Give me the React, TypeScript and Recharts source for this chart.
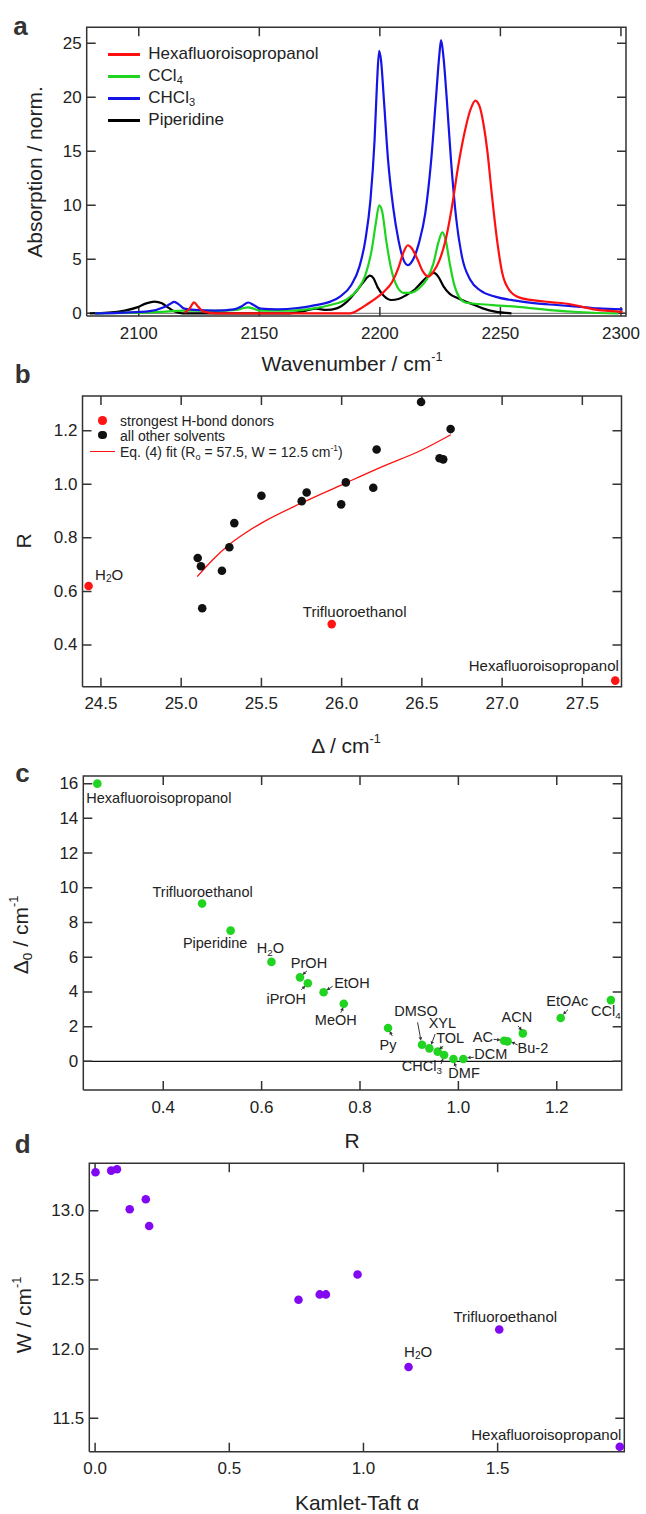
import React from 'react';
import { ComposedChart, Line, Scatter, XAxis, YAxis, ReferenceLine } from 'recharts';

// ---------------------------------------------------------------------------
// Style
// ---------------------------------------------------------------------------

const FONT = '"Liberation Sans", Arial, Helvetica, sans-serif';
const AX = '#333';
const TXT = '#222';
const RED = '#ff1010';
const GREEN = '#1ed41e';
const BLUE = '#1414e6';
const PURPLE = '#8208f2';
const DOTGREEN = '#22d422';

// ---------------------------------------------------------------------------
// Panel a: normalised absorption spectra
// ---------------------------------------------------------------------------

const hfipWn = [2119, 2121.2, 2122.9, 2124.6, 2127, 2131.8, 2150, 2170, 2187.7, 2191.5, 2194.9, 2198.3, 2201.7, 2205.1, 2207.7, 2209.9, 2211.6, 2213.3, 2215.4, 2217.9, 2220.1, 2222.2, 2224.7, 2227.3, 2229.9, 2232.4, 2235.0, 2237.5, 2239.6, 2241.3, 2243.0, 2244.7, 2246.4, 2248.6, 2250.8, 2253.7, 2258.0, 2264.8, 2271.6, 2278.5, 2283.6, 2288.7, 2295.5, 2300.7];
const hfipAbs = [0.06, 0.46, 1.02, 0.62, 0.15, 0, 0, 0, 0, 0.37, 0.86, 1.39, 2.0, 2.9, 4.2, 5.7, 6.3, 6.0, 5.1, 3.85, 3.4, 3.85, 4.9, 6.8, 9.85, 13.5, 16.6, 18.8, 19.7, 19.2, 17.5, 14.8, 11.1, 6.8, 3.7, 2.15, 1.45, 1.17, 1.02, 0.86, 0.62, 0.37, 0.22, 0.12];

const cclWn = [2081.9, 2099.3, 2111.3, 2118.1, 2131.8, 2140.3, 2143.7, 2145.4, 2147.5, 2150.5, 2162.5, 2172.7, 2179.5, 2186.4, 2190.6, 2194.0, 2196.6, 2198.3, 2199.7, 2200.9, 2202.6, 2204.8, 2207.2, 2209.9, 2212.8, 2216.2, 2219.6, 2222.2, 2224.2, 2225.9, 2227.3, 2229.0, 2230.7, 2232.8, 2235.8, 2240.9, 2247.8, 2256.3, 2264.8, 2273.4, 2281.9, 2290.4, 2299.0];
const cclAbs = [0, 0.06, 0.15, 0.25, 0.22, 0.31, 0.49, 0.55, 0.43, 0.25, 0.25, 0.46, 0.77, 1.32, 2.15, 3.54, 5.85, 8.3, 10.0, 9.5, 6.8, 4.0, 2.46, 1.9, 1.9, 2.3, 3.2, 4.6, 6.5, 7.5, 6.8, 4.6, 2.77, 1.54, 0.98, 0.86, 0.74, 0.62, 0.43, 0.25, 0.12, 0.03, 0];

const chclWn = [2081.9, 2094.2, 2104.5, 2110.4, 2113.0, 2114.7, 2116.7, 2118.9, 2123.2, 2131.8, 2139.4, 2142.9, 2145.4, 2147.6, 2150.5, 2157.4, 2165.9, 2172.7, 2179.5, 2183.8, 2188.1, 2191.5, 2194.0, 2196.1, 2197.8, 2198.8, 2199.7, 2200.5, 2201.7, 2203.4, 2205.5, 2207.7, 2209.9, 2211.6, 2213.6, 2216.2, 2218.8, 2221.3, 2223.4, 2224.7, 2225.4, 2226.4, 2227.8, 2229.5, 2231.6, 2234.1, 2237.5, 2241.8, 2247.8, 2256.3, 2264.8, 2273.4, 2281.9, 2290.4, 2300.7];
const chclAbs = [0, 0.06, 0.2, 0.55, 0.86, 1.05, 0.8, 0.43, 0.31, 0.25, 0.37, 0.68, 1.0, 0.77, 0.43, 0.37, 0.49, 0.74, 1.08, 1.6, 2.6, 4.3, 6.8, 10.5, 16.0, 21.2, 24.3, 23.4, 19.7, 14.2, 9.85, 6.8, 4.9, 4.46, 4.9, 6.5, 9.2, 14.2, 20.3, 24.0, 25.3, 23.7, 19.7, 14.2, 8.9, 5.2, 3.1, 2.1, 1.54, 1.17, 0.92, 0.77, 0.62, 0.46, 0.37];

const pipWn = [2079.7, 2087.4, 2094.2, 2099.3, 2103.1, 2106.5, 2109.6, 2112.1, 2114.7, 2118.1, 2140, 2162.5, 2169.3, 2173.6, 2177.8, 2182.1, 2186.4, 2190.1, 2193.2, 2195.9, 2197.4, 2199.1, 2201.7, 2204.8, 2207.7, 2211.1, 2214.5, 2217.9, 2220.8, 2222.5, 2224.2, 2226.4, 2229.0, 2232.4, 2237.5, 2242.7, 2247.8, 2254.6];
const pipAbs = [0, 0.06, 0.25, 0.55, 0.92, 1.08, 0.92, 0.55, 0.18, 0, 0, 0, 0.25, 0.43, 0.31, 0.46, 1.08, 2.0, 2.9, 3.48, 3.23, 2.4, 1.6, 1.23, 1.32, 1.7, 2.2, 3.0, 3.6, 3.75, 3.4, 2.5, 1.8, 1.39, 0.92, 0.46, 0.15, 0];

const aXDomain = [2078.4, 2302.1];
const aYDomain = [-0.25, 26.48];
const aXTicks = [2100, 2150, 2200, 2250, 2300];
const aYTicks = [0, 5, 10, 15, 20, 25];

// ---------------------------------------------------------------------------
// Panel b: R vs splitting
// ---------------------------------------------------------------------------

const bDonorNames = ['H2O', 'Trifluoroethanol', 'Hexafluoroisopropanol'];
const bDonorDelta = [24.423, 25.938, 27.705];
const bDonorR = [0.62, 0.478, 0.267];

const bOtherDelta = [26.495, 26.679, 26.218, 26.61, 26.633, 26.026, 25.782, 25.751, 26.197, 25.997, 25.5, 25.331, 25.3, 25.254, 25.103, 25.123, 25.131];
const bOtherR = [1.307, 1.206, 1.13, 1.097, 1.093, 1.007, 0.969, 0.937, 0.987, 0.925, 0.957, 0.855, 0.765, 0.677, 0.725, 0.694, 0.537];

const bFitDelta = [25.1, 25.2, 25.3, 25.4, 25.5, 25.75, 26.0, 26.25, 26.5, 26.68];
const bFitR = [0.655, 0.72, 0.775, 0.818, 0.855, 0.93, 0.998, 1.065, 1.128, 1.185];

const bXDomain = [24.385, 27.744];
const bYDomain = [0.2443, 1.3295];
const bXTicks = [24.5, 25, 25.5, 26, 26.5, 27, 27.5];
const bYTicks = [0.4, 0.6, 0.8, 1.0, 1.2];

// ---------------------------------------------------------------------------
// Panel c: Δ0 vs R
// ---------------------------------------------------------------------------

const cNames = ['Hexafluoroisopropanol', 'Trifluoroethanol', 'Piperidine', 'H2O', 'PrOH', 'iPrOH', 'EtOH', 'MeOH', 'Py', 'DMSO', 'XYL', 'TOL', 'CHCl3', 'DMF', 'DCM', 'AC', 'Bu-2', 'ACN', 'EtOAc', 'CCl4'];
const cR = [0.266, 0.479, 0.537, 0.62, 0.678, 0.694, 0.726, 0.767, 0.857, 0.926, 0.941, 0.958, 0.971, 0.99, 1.01, 1.093, 1.1, 1.131, 1.208, 1.31];
const cDelta0 = [16.0, 9.09, 7.53, 5.73, 4.84, 4.5, 3.98, 3.32, 1.92, 0.96, 0.75, 0.56, 0.37, 0.14, 0.14, 1.19, 1.15, 1.61, 2.5, 3.53];

const cXDomain = [0.2375, 1.332];
const cYDomain = [-1.65, 16.44];
const cXTicks = [0.4, 0.6, 0.8, 1.0, 1.2];
const cYTicks = [0, 2, 4, 6, 8, 10, 12, 14, 16];

// ---------------------------------------------------------------------------
// Panel d: W vs Kamlet-Taft alpha
// ---------------------------------------------------------------------------

const dNames = ['', '', '', '', '', '', '', '', '', '', 'H2O', 'Trifluoroethanol', 'Hexafluoroisopropanol'];
const dAlpha = [0.0015, 0.06, 0.0815, 0.129, 0.189, 0.2015, 0.758, 0.837, 0.86, 0.978, 1.168, 1.506, 1.955];
const dW = [13.277, 13.289, 13.299, 13.01, 13.082, 12.889, 12.356, 12.395, 12.395, 12.539, 11.871, 12.142, 11.295];

const dXDomain = [-0.0216, 1.972];
const dYDomain = [11.259, 13.342];
const dXTicks = [0, 0.5, 1.0, 1.5];
const dYTicks = [11.5, 12.0, 12.5, 13.0];

// ---------------------------------------------------------------------------
// Label placement (pixel offsets from each point)
// ---------------------------------------------------------------------------

type Anchor = 'start' | 'middle' | 'end';
interface Note { dx: number; dy: number; anchor: Anchor; arrow?: [number, number, number, number] }

const bNotes: Record<string, Note> = {
  'H2O': { dx: 6.5, dy: -12, anchor: 'start' },
  'Trifluoroethanol': { dx: 23, dy: -13.4, anchor: 'middle' },
  'Hexafluoroisopropanol': { dx: 3.6, dy: -15.6, anchor: 'end' },
};

const cNotes: Record<string, Note> = {
  'Hexafluoroisopropanol': { dx: -11, dy: 14.3, anchor: 'start' },
  'Trifluoroethanol': { dx: 0.5, dy: -12, anchor: 'middle' },
  'Piperidine': { dx: -15.5, dy: 12, anchor: 'middle' },
  'H2O': { dx: -1, dy: -13.6, anchor: 'middle' },
  'PrOH': { dx: 9, dy: -14, anchor: 'middle', arrow: [7, -6.5, 2.5, -2.5] },
  'iPrOH': { dx: -21.7, dy: 16, anchor: 'middle', arrow: [-6.5, 6.5, -2.5, 2.5] },
  'EtOH': { dx: 28.3, dy: -9.6, anchor: 'middle', arrow: [9, -6, 3, -2] },
  'MeOH': { dx: -8, dy: 16, anchor: 'middle', arrow: [-3, 9, -0.5, 3.5] },
  'Py': { dx: 0, dy: 16.6, anchor: 'middle', arrow: [4.3, 8, 1.5, 3] },
  'DMSO': { dx: -6, dy: -33.5, anchor: 'middle', arrow: [-4.4, -22.4, -1, -4] },
  'XYL': { dx: 13, dy: -25, anchor: 'middle', arrow: [5.8, -14.3, 1.8, -3.5] },
  'TOL': { dx: 12.4, dy: -13.6, anchor: 'middle', arrow: [5.5, -5.5, 1.5, -2.3] },
  'CHCl3': { dx: -22.3, dy: 11.4, anchor: 'middle', arrow: [-3, 9, -1, 3.5] },
  'DMF': { dx: 10.6, dy: 14.4, anchor: 'middle', arrow: [2.7, 8.5, 0.7, 3.5] },
  'DCM': { dx: 11, dy: -4.5, anchor: 'start', arrow: [10.5, -1.6, 3.8, -1.2] },
  'AC': { dx: -11.2, dy: -3.4, anchor: 'end', arrow: [-10.6, -1.4, -3.5, -0.6] },
  'Bu-2': { dx: 10, dy: 7, anchor: 'start', arrow: [10, 3.6, 3.8, 0.5] },
  'ACN': { dx: -6, dy: -16, anchor: 'middle', arrow: [-4.8, -7.5, -1, -3] },
  'EtOAc': { dx: 6.5, dy: -16.7, anchor: 'middle', arrow: [7.3, -8.4, 2.3, -3.4] },
  'CCl4': { dx: -5, dy: 11, anchor: 'middle' },
};

const dNotes: Record<string, Note> = {
  'H2O': { dx: 9.6, dy: -16, anchor: 'middle' },
  'Trifluoroethanol': { dx: 6, dy: -13.4, anchor: 'middle' },
  'Hexafluoroisopropanol': { dx: 1.6, dy: -12.6, anchor: 'end' },
};

// ---------------------------------------------------------------------------
// Helpers
// ---------------------------------------------------------------------------

const pts = (xs: number[], ys: number[], names?: string[]) =>
  xs.map((x, i) => ({ x, y: ys[i], name: names ? names[i] : '' }));

const TICK_LEN = 9;
const TICK_FS = 17;

// outline of the plot area with inward tick excursions on all four edges,
// walked as one polyline; w/h = plot size in px (tick length -> data units)
function framePts(xd: number[], yd: number[], xt: number[], yt: number[], w: number, h: number) {
  const lx = (TICK_LEN * (xd[1] - xd[0])) / w;
  const ly = (TICK_LEN * (yd[1] - yd[0])) / h;
  const out: { x: number; y: number }[] = [{ x: xd[0], y: yd[0] }];
  xt.forEach((t) => out.push({ x: t, y: yd[0] }, { x: t, y: yd[0] + ly }, { x: t, y: yd[0] }));
  out.push({ x: xd[1], y: yd[0] });
  yt.forEach((t) => out.push({ x: xd[1], y: t }, { x: xd[1] - lx, y: t }, { x: xd[1], y: t }));
  out.push({ x: xd[1], y: yd[1] });
  [...xt].reverse().forEach((t) => out.push({ x: t, y: yd[1] }, { x: t, y: yd[1] - ly }, { x: t, y: yd[1] }));
  out.push({ x: xd[0], y: yd[1] });
  [...yt].reverse().forEach((t) => out.push({ x: xd[0], y: t }, { x: xd[0] + lx, y: t }, { x: xd[0], y: t }));
  out.push({ x: xd[0], y: yd[0] });
  return out;
}

const f0 = (v: number) => v.toFixed(0);
const f1 = (v: number) => v.toFixed(1);

const labelBottom = (fmt: (v: number) => string) => (p: any) => (
  <text x={p.x} y={p.y + 17} textAnchor="middle" dominantBaseline="central"
    fontSize={TICK_FS} fontFamily={FONT} fill={TXT}>{fmt(p.payload.value)}</text>
);
const labelLeft = (fmt: (v: number) => string) => (p: any) => (
  <text x={p.x - 5} y={p.y} textAnchor="end" dominantBaseline="central"
    fontSize={TICK_FS} fontFamily={FONT} fill={TXT}>{fmt(p.payload.value)}</text>
);

const axisCommon = { type: 'number' as const, interval: 0 as const, tickLine: false, axisLine: false, tickSize: 0, tickMargin: 0 };

// digits right after a letter become subscripts (H2O, CHCl3, CCl4)
function rich(s: string, fs: number) {
  const out: React.ReactNode[] = [];
  let buf = '';
  let down = false;
  const flush = (k: number) => {
    if (!buf) return;
    out.push(<tspan key={'t' + k} dy={down ? -fs * 0.25 : 0}>{buf}</tspan>);
    down = false;
    buf = '';
  };
  for (let i = 0; i < s.length; i++) {
    const ch = s[i];
    if (/\d/.test(ch) && i > 0 && /[A-Za-z]/.test(s[i - 1])) {
      flush(i);
      out.push(<tspan key={'s' + i} dy={fs * 0.25} fontSize={fs * 0.68}>{ch}</tspan>);
      down = true;
    } else buf += ch;
  }
  flush(s.length);
  return out;
}

function arrow(a: [number, number, number, number], cx: number, cy: number) {
  const [x1, y1, x2, y2] = [cx + a[0], cy + a[1], cx + a[2], cy + a[3]];
  const ang = Math.atan2(y2 - y1, x2 - x1);
  const L = 3.5, W = 1.8;
  const bx = x2 - L * Math.cos(ang), by = y2 - L * Math.sin(ang);
  const px = -Math.sin(ang) * W, py = Math.cos(ang) * W;
  return (
    <g>
      <line x1={x1} y1={y1} x2={bx} y2={by} stroke="#333" strokeWidth={1} />
      <polygon points={`${x2},${y2} ${bx + px},${by + py} ${bx - px},${by - py}`} fill="#333" />
    </g>
  );
}

const dotShape = (color: string, r: number, notes: Record<string, Note> = {}, fs = 15) => (p: any) => {
  const { cx, cy, payload } = p;
  const n = payload && payload.name ? notes[payload.name] : undefined;
  return (
    <g>
      <circle cx={cx} cy={cy} r={r} fill={color} />
      {n && n.arrow && arrow(n.arrow, cx, cy)}
      {n && (
        <text x={cx + n.dx} y={cy + n.dy} textAnchor={n.anchor} dominantBaseline="central"
          fontSize={fs} fontFamily={FONT} fill={TXT}>{rich(payload.name, fs)}</text>
      )}
    </g>
  );
};

function Txt({ x, y, size = 21, rot = 0, bold = false, children }: any) {
  return (
    <div style={{
      position: 'absolute', left: x, top: y, transform: `translate(-50%, -50%) rotate(${rot}deg)`,
      fontFamily: FONT, fontSize: size, fontWeight: bold ? 'bold' : 'normal', color: bold ? '#333' : TXT,
      whiteSpace: 'nowrap', lineHeight: 1,
    }}>{children}</div>
  );
}

const Sup = ({ children }: any) => <sup style={{ fontSize: '0.6em', verticalAlign: '0.75em', lineHeight: 0 }}>{children}</sup>;
const Sub = ({ children }: any) => <sub style={{ fontSize: '0.65em', verticalAlign: '-0.3em', lineHeight: 0 }}>{children}</sub>;

const frameLine = { dataKey: 'y', type: 'linear' as const, stroke: AX, strokeWidth: 1.5, dot: false, isAnimationActive: false };

// ---------------------------------------------------------------------------
// App
// ---------------------------------------------------------------------------

export default function App() {
  const legendA = [
    { label: <>Hexafluoroisopropanol</>, color: RED },
    { label: <>CCl<Sub>4</Sub></>, color: GREEN },
    { label: <>CHCl<Sub>3</Sub></>, color: BLUE },
    { label: <>Piperidine</>, color: '#000' },
  ];

  return (
    <div style={{ position: 'absolute', left: 0, top: 0, width: 646, height: 1514, background: '#fff', overflow: 'hidden' }}>
      {/* a: spectra */}
      <div style={{ position: 'absolute', left: 0, top: 0 }}>
        <ComposedChart width={646} height={350} margin={{ top: 27.3, right: 20, bottom: 0, left: 0 }}>
          <XAxis {...axisCommon} dataKey="x" domain={aXDomain} ticks={aXTicks} height={34} tick={labelBottom(f0)} />
          <YAxis {...axisCommon} dataKey="y" domain={aYDomain} ticks={aYTicks} width={86.7} tick={labelLeft(f0)} />
          <ReferenceLine y={0} stroke="#666" strokeWidth={1} />
          <Line {...frameLine} data={framePts(aXDomain, aYDomain, aXTicks, aYTicks, 539.3, 288.7)} />
          <Line data={pts(pipWn, pipAbs)} dataKey="y" type="monotone" stroke="#000" strokeWidth={2.2} dot={false} isAnimationActive={false} />
          <Line data={pts(cclWn, cclAbs)} dataKey="y" type="monotone" stroke={GREEN} strokeWidth={2.2} dot={false} isAnimationActive={false} />
          <Line data={pts(chclWn, chclAbs)} dataKey="y" type="monotone" stroke={BLUE} strokeWidth={2.2} dot={false} isAnimationActive={false} />
          <Line data={pts(hfipWn, hfipAbs)} dataKey="y" type="monotone" stroke={RED} strokeWidth={2.2} dot={false} isAnimationActive={false} />
        </ComposedChart>
      </div>

      {/* b: R vs delta */}
      <div style={{ position: 'absolute', left: 0, top: 340 }}>
        <ComposedChart width={646} height={400} margin={{ top: 56, right: 24.5, bottom: 0, left: 0 }}>
          <XAxis {...axisCommon} dataKey="x" domain={bXDomain} ticks={bXTicks} height={53.3} tick={labelBottom(f1)} />
          <YAxis {...axisCommon} dataKey="y" domain={bYDomain} ticks={bYTicks} width={82.5} tick={labelLeft(f1)} />
          <Line {...frameLine} data={framePts(bXDomain, bYDomain, bXTicks, bYTicks, 539, 290.7)} />
          <Line data={pts(bFitDelta, bFitR)} dataKey="y" type="monotone" stroke={RED} strokeWidth={1.3} dot={false} isAnimationActive={false} />
          <Scatter data={pts(bOtherDelta, bOtherR)} dataKey="y" shape={dotShape('#111', 4.3)} isAnimationActive={false} />
          <Scatter data={pts(bDonorDelta, bDonorR, bDonorNames)} dataKey="y" shape={dotShape('#ff1414', 4.3, bNotes)} isAnimationActive={false} />
        </ComposedChart>
      </div>

      {/* c: delta0 vs R */}
      <div style={{ position: 'absolute', left: 0, top: 740 }}>
        <ComposedChart width={646} height={380} margin={{ top: 36, right: 24.3, bottom: 0, left: 0 }}>
          <XAxis {...axisCommon} dataKey="x" domain={cXDomain} ticks={cXTicks} height={30} tick={labelBottom(f1)} />
          <YAxis {...axisCommon} dataKey="y" domain={cYDomain} ticks={cYTicks} width={83.3} tick={labelLeft(f0)} />
          <ReferenceLine y={0} stroke="#111" strokeWidth={1.3} />
          <Line {...frameLine} data={framePts(cXDomain, cYDomain, cXTicks, cYTicks, 538.4, 314)} />
          <Scatter data={pts(cR, cDelta0, cNames)} dataKey="y" shape={dotShape(DOTGREEN, 4.3, cNotes, 14.5)} isAnimationActive={false} />
        </ComposedChart>
      </div>

      {/* d: W vs alpha */}
      <div style={{ position: 'absolute', left: 0, top: 1120 }}>
        <ComposedChart width={646} height={394} margin={{ top: 43.3, right: 21.7, bottom: 0, left: 0 }}>
          <XAxis {...axisCommon} dataKey="x" domain={dXDomain} ticks={dXTicks} height={62.3} tick={labelBottom(f1)} />
          <YAxis {...axisCommon} dataKey="y" domain={dYDomain} ticks={dYTicks} width={89.3} tick={labelLeft(f1)} />
          <Line {...frameLine} data={framePts(dXDomain, dYDomain, dXTicks, dYTicks, 535, 288.4)} />
          <Scatter data={pts(dAlpha, dW, dNames)} dataKey="y" shape={dotShape(PURPLE, 4.3, dNotes)} isAnimationActive={false} />
        </ComposedChart>
      </div>

      {/* legend a */}
      {legendA.map((l, i) => (
        <div key={i} style={{ position: 'absolute', left: 108.3, top: 54.3 + i * 21.9, width: 620 }}>
          <div style={{ position: 'absolute', left: 0, top: -1.5, width: 32, height: 3, background: l.color }} />
          <div style={{ position: 'absolute', left: 40, top: -9, fontFamily: FONT, fontSize: 17, lineHeight: '18px', color: TXT, whiteSpace: 'nowrap' }}>{l.label}</div>
        </div>
      ))}

      {/* legend b */}
      <div style={{ position: 'absolute', left: 98.4, top: 416.4, width: 8.6, height: 8.6, borderRadius: '50%', background: '#ff1414' }} />
      <div style={{ position: 'absolute', left: 98.4, top: 430.7, width: 8.6, height: 8.6, borderRadius: '50%', background: '#111' }} />
      <div style={{ position: 'absolute', left: 90, top: 450.5, width: 25, height: 1.6, background: RED }} />
      {['strongest H-bond donors', 'all other solvents'].map((t, i) => (
        <div key={t} style={{ position: 'absolute', left: 120, top: 420.7 + i * 15.3 - 8, fontFamily: FONT, fontSize: 14, lineHeight: '16px', color: TXT, whiteSpace: 'nowrap' }}>{t}</div>
      ))}
      <div style={{ position: 'absolute', left: 120, top: 451.7 - 8, fontFamily: FONT, fontSize: 14, lineHeight: '16px', color: TXT, whiteSpace: 'nowrap' }}>
        Eq. (4) fit (R<Sub>o</Sub> = 57.5, W = 12.5 cm<Sup>-1</Sup>)
      </div>

      {/* panel letters */}
      <Txt x={20.6} y={25.8} size={26} bold>a</Txt>
      <Txt x={22.6} y={374} size={26} bold>b</Txt>
      <Txt x={22.6} y={772.5} size={26} bold>c</Txt>
      <Txt x={22.6} y={1143.5} size={26} bold>d</Txt>

      {/* axis titles */}
      <Txt x={34} y={172} rot={-90}>Absorption / norm.</Txt>
      <Txt x={352} y={362.7}>Wavenumber / cm<Sup>-1</Sup></Txt>
      <Txt x={22.7} y={541} rot={-90}>R</Txt>
      <Txt x={346} y={745}>Δ / cm<Sup>-1</Sup></Txt>
      <Txt x={20} y={935} rot={-90}>Δ<Sub>0</Sub> / cm<Sup>-1</Sup></Txt>
      <Txt x={352} y={1140}>R</Txt>
      <Txt x={23} y={1315} rot={-90}>W / cm<Sup>-1</Sup></Txt>
      <Txt x={357} y={1501.7}>Kamlet-Taft α</Txt>
    </div>
  );
}
